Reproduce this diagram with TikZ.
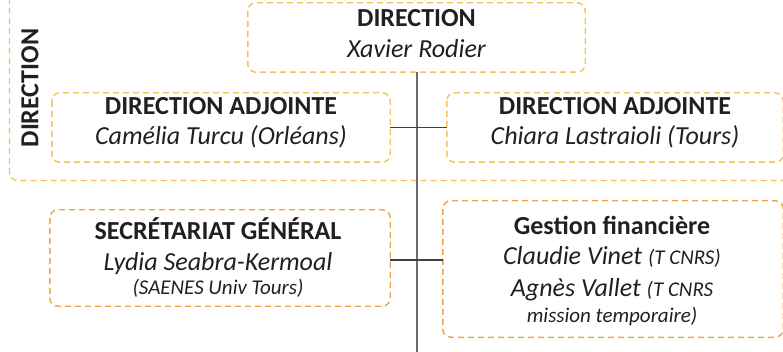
\documentclass[tikz,border=0pt]{standalone}
\usepackage{fontspec}
\setmainfont{Carlito}
\definecolor{orUp}{HTML}{F7BE5C}
\definecolor{orLo}{HTML}{EFA346}
\definecolor{txt}{HTML}{231F20}
\definecolor{vline}{HTML}{6B6B6B}
\definecolor{hline}{HTML}{404040}
\begin{document}
\begin{tikzpicture}[x=1pt,y=-1pt,
  dbox/.style={draw=orUp,line width=1.4pt,dash pattern=on 6pt off 4pt,rounded corners=8pt},
  dboxlo/.style={dbox,draw=orLo},
  ttl/.style={font=\bfseries\fontsize{26}{30}\selectfont,text=txt,anchor=base,inner sep=0pt},
  nm/.style={font=\itshape\fontsize{26}{30}\selectfont,text=txt,anchor=base,inner sep=0pt},
  sm/.style={font=\itshape\fontsize{21}{25}\selectfont,text=txt,anchor=base,inner sep=0pt},
  vln/.style={draw=vline,line width=2pt},
  hln/.style={draw=hline,line width=1.2pt}]
\useasboundingbox (0,0) rectangle (783,352);
\clip (0,0) rectangle (783,352);
% outer direction group
\draw[dbox] (9.5,-20) rectangle (810,180.5);
\node[ttl,rotate=90,anchor=center] (grp) at (30,88) {DIRECTION};
% boxes
\node[minimum width=337pt,minimum height=69pt,inner sep=0pt] (dir) at (416.5,37.5) {};
\draw[dbox] (dir.north west) rectangle (dir.south east);
\node[minimum width=338pt,minimum height=69pt,inner sep=0pt] (adjL) at (221,127.5) {};
\draw[dbox] (adjL.north west) rectangle (adjL.south east);
\node[minimum width=336pt,minimum height=69pt,inner sep=0pt] (adjR) at (615,127.5) {};
\draw[dbox] (adjR.north west) rectangle (adjR.south east);
\node[minimum width=340pt,minimum height=96pt,inner sep=0pt] (sec) at (220,258) {};
\draw[dboxlo] (sec.north west) rectangle (sec.south east);
\node[minimum width=340pt,minimum height=136pt,inner sep=0pt] (gest) at (613,269) {};
\draw[dboxlo] (gest.north west) rectangle (gest.south east);
% texts
\node[ttl] (t1) at (416.5,27) {DIRECTION};
\node[nm] (n1) at (416.5,58) {Xavier Rodier};
\node[ttl] (t2) at (221,115) {DIRECTION ADJOINTE};
\node[nm] (n2) at (221,145) {Camélia Turcu (Orléans)};
\node[ttl] (t3) at (615,115) {DIRECTION ADJOINTE};
\node[nm] (n3) at (615,145) {Chiara Lastraioli (Tours)};
\node[ttl] (t4) at (218,240) {SECRÉTARIAT GÉNÉRAL};
\node[nm] (n4) at (218,270) {Lydia Seabra-Kermoal};
\node[sm] (s4) at (218,294) {(SAENES Univ Tours)};
\node[ttl] (t5) at (612,235) {Gestion financière};
\node[nm] (n5) at (612,265) {Claudie Vinet {\fontsize{21}{25}\selectfont(T CNRS)}};
\node[nm] (n6) at (612,296) {Agnès Vallet {\fontsize{21}{25}\selectfont(T CNRS}};
\node[sm] (s6) at (612,322) {mission temporaire)};
% connectors
\coordinate (vEnd) at (417,352);
\draw[vln] (dir.south -| vEnd) -- (vEnd);
\draw[hln] (adjL.east) -- (adjR.west);
\draw[hln] (sec.east |- 0,260) -- (gest.west |- 0,260);
\end{tikzpicture}
\end{document}
